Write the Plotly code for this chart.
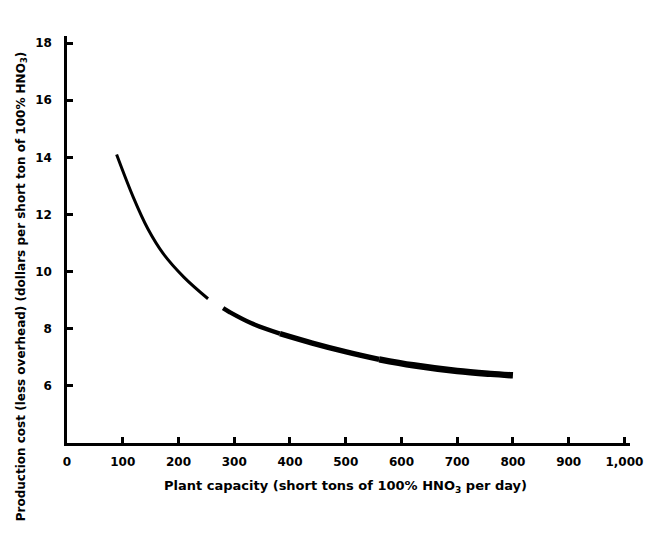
import plotly.graph_objects as go

# Production cost curve (dollars per short ton) vs plant capacity (short tons/day)
capacity = [89, 119, 145, 173, 210, 253, 265, 280, 292, 330, 382, 440, 501, 560, 621, 700, 760, 800]
cost = [14.1, 12.6, 11.5, 10.62, 9.8, 9.05, 8.82, 8.72, 8.58, 8.2, 7.83, 7.5, 7.19, 6.93, 6.72, 6.52, 6.42, 6.37]

x_ticks = [0, 100, 200, 300, 400, 500, 600, 700, 800, 900, 1000]
x_tick_text = ["0", "100", "200", "300", "400", "500", "600", "700", "800", "900", "1,000"]
y_ticks = [6, 8, 10, 12, 14, 16, 18]
y_tick_text = ["6", "8", "10", "12", "14", "16", "18"]

fig = go.Figure()

# The curve gets heavier toward high capacities; drawn in overlapping pieces of
# growing width, with a short break just past 250 tons/day
pieces = [(0, 6, 3), (7, 11, 4.5), (10, 14, 5.5), (13, 18, 6.5)]
for i0, i1, w in pieces:
    fig.add_trace(go.Scatter(
        x=capacity[i0:i1], y=cost[i0:i1], mode="lines",
        line=dict(color="black", width=w, shape="spline"),
        showlegend=False, hoverinfo="skip"))

FONT = "DejaVu Sans, Liberation Sans, Arial, sans-serif"
tickfont = dict(family=FONT, size=12, color="black", weight="bold")

fig.update_layout(
    width=662, height=536,
    margin=dict(l=67, r=32, t=36, b=93),
    paper_bgcolor="white", plot_bgcolor="white",
    font=dict(family=FONT, size=11, color="black"),
    xaxis=dict(
        range=[0, 1010], tickvals=x_ticks, ticktext=x_tick_text,
        showgrid=False, zeroline=False, showline=True, linecolor="black", linewidth=2.5,
        ticks="inside", ticklen=6, tickwidth=2.5, tickcolor="black",
        tickfont=tickfont, ticklabelstandoff=6,
    ),
    yaxis=dict(
        range=[4, 18.25], tickvals=y_ticks, ticktext=y_tick_text,
        showgrid=False, zeroline=False, showline=True, linecolor="black", linewidth=2.5,
        ticks="inside", ticklen=6, tickwidth=2.5, tickcolor="black",
        tickfont=tickfont, ticklabelstandoff=10,
    ),
    annotations=[
        dict(text="<b>Plant capacity (short tons of 100% HNO<sub>3</sub> per day)</b>",
             xref="paper", yref="paper", x=0.495, y=-0.108,
             xanchor="center", yanchor="middle", showarrow=False,
             font=dict(family=FONT, size=13, color="black")),
        dict(text="<b>Production cost (less overhead) (dollars per short ton of 100% HNO<sub>3</sub>)</b>",
             xref="paper", yref="paper", x=-0.08, y=0.385, textangle=-90,
             xanchor="center", yanchor="middle", showarrow=False,
             font=dict(family=FONT, size=12, color="black")),
    ],
)

fig.write_html("out.html")
